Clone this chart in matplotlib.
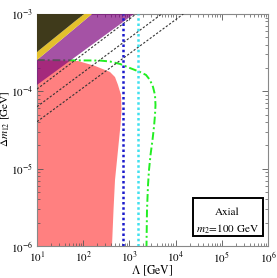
import numpy as np
import matplotlib
matplotlib.use("Agg")
import matplotlib.pyplot as plt

plt.rcParams['font.family'] = 'serif'
plt.rcParams['font.serif'] = ['STIXGeneral', 'Liberation Serif', 'DejaVu Serif']
plt.rcParams['mathtext.fontset'] = 'stix'

# excluded region (pink), boundary
pink_lam = [10, 77, 180, 380, 488, 566, 658, 675, 642, 596, 539, 488, 453, 420, 10]
pink_dm = [2.54e-4, 2.47e-4, 2.13e-4, 1.78e-4, 1.53e-4, 1.21e-4, 8.97e-5, 5.74e-5,
           3.67e-5, 2.35e-5, 1.29e-5, 7.13e-6, 2.92e-6, 1e-6, 1e-6]

# diagonal bands in upper-left corner
dark_lam = [10, 10, 104]
dark_dm = [1e-3, 3.23e-4, 1e-3]
yellow_lam = [10, 10, 155, 104]
yellow_dm = [3.23e-4, 2.54e-4, 1e-3, 1e-3]
purple_lam = [10, 10, 1259, 155]
purple_dm = [2.54e-4, 1.21e-4, 1e-3, 1e-3]

# dashed contours: dm at Lambda=10 and Lambda at dm=1e-3
dash_dm_left = [1.07e-4, 6.33e-5, 4.05e-5]
dash_lam_top = [1390, 5000, 14700]

# vertical limits
blue_lam = 745
cyan_lam = 1500

# green dash-dot curve
green_lam = [10, 231, 380, 627, 1030, 1696, 2287, 2790, 3243, 3581, 3672, 3581,
             3405, 3162, 2862, 2656, 2529, 2404, 2344]
green_dm = [2.54e-4, 2.50e-4, 2.43e-4, 2.26e-4, 2.00e-4, 1.78e-4, 1.63e-4, 1.40e-4,
            1.14e-4, 8.97e-5, 6.66e-5, 4.94e-5, 3.46e-5, 2.35e-5, 1.50e-5, 9.6e-6,
            6.15e-6, 2.92e-6, 1e-6]

fig = plt.figure(figsize=(2.77, 2.78), dpi=100)
ax = fig.add_axes([37/277, 1-246/278, 231/277, 232/278])
ax.set_xscale('log')
ax.set_yscale('log')
ax.set_xlim(10, 1e6)
ax.set_ylim(1e-6, 1e-3)

ax.fill(pink_lam, pink_dm, color='#ff8080', lw=0, zorder=1)
ax.plot(green_lam, green_dm, color='#22ee22', lw=1.4, dashes=(4, 1.5, 1, 1.5), zorder=2)
ax.fill(purple_lam, purple_dm, color=(123/255, 0, 123/255), alpha=0.68, lw=0, zorder=3)
ax.fill(yellow_lam, yellow_dm, color='#e3c02c', lw=0, zorder=4)
ax.fill(dark_lam, dark_dm, color='#3f3a1b', lw=0, zorder=5)

for d0, l1 in zip(dash_dm_left, dash_lam_top):
    ax.plot([10, l1], [d0, 1e-3], color='#333333', lw=0.8, dashes=(2, 1.6), zorder=6)

ax.axvline(blue_lam, color='#1a1acc', lw=1.8, dashes=(1, 1.1), zorder=7)
ax.axvline(cyan_lam, color='#40e0ee', lw=1.8, dashes=(1, 1.1), zorder=7)

ax.tick_params(which='both', direction='in', top=True, right=True,
               colors='#555555', labelcolor='black', labelsize=8, pad=3)
ax.tick_params(which='major', length=4, width=0.6)
ax.tick_params(which='minor', length=2, width=0.5)
for s in ax.spines.values():
    s.set_color('#888888')
    s.set_linewidth(0.8)

ax.set_xlabel(r'$\Lambda$ [GeV]', fontsize=8.5)
ax.xaxis.set_label_coords(0.5, -0.075)
ax.set_ylabel(r'$\Delta m_{12}$ [GeV]', fontsize=8)
ax.yaxis.set_label_coords(-0.108, 0.55)

box = plt.Rectangle((0.677, 0.043), 0.303, 0.163, transform=ax.transAxes,
                    facecolor='white', edgecolor='black', lw=1.4, zorder=10)
ax.add_patch(box)
ax.text(0.823, 0.147, 'Axial', transform=ax.transAxes, ha='center', va='center',
        fontsize=8, zorder=11)
ax.text(0.823, 0.073, r'$m_2\!=\!100$ GeV', transform=ax.transAxes, ha='center',
        va='center', fontsize=8, zorder=11)

fig.savefig('out.png', dpi=100)
